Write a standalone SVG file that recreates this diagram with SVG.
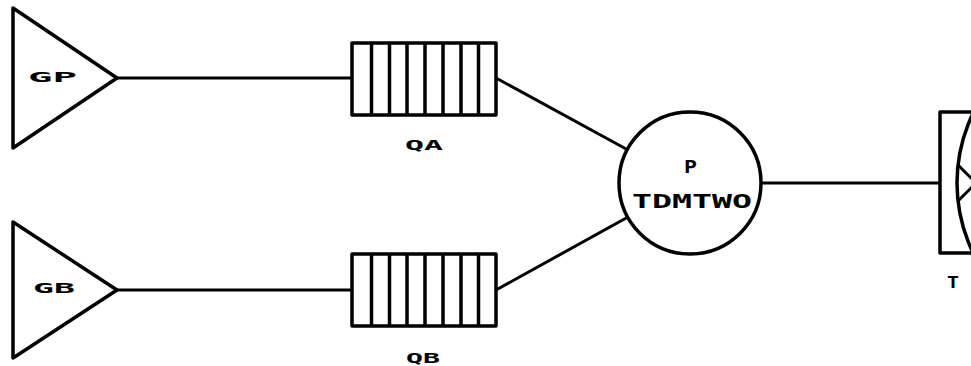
<svg xmlns="http://www.w3.org/2000/svg" width="971" height="366" viewBox="0 0 971 366">
<style>
.s{fill:#fff;stroke:#000;stroke-width:3.5;stroke-linejoin:round}
.c{fill:none;stroke:#000;stroke-width:3}
.d{fill:none;stroke:#000;stroke-width:3.5}
.t{font-family:"DejaVu Sans Mono","Liberation Mono",monospace;font-weight:bold;fill:#000}
</style>
<rect width="971" height="366" fill="#fff"/>
<g id="connectors">
<line class="c" x1="117" y1="78" x2="352" y2="78"/>
<line class="c" x1="117" y1="290" x2="352" y2="290"/>
<line class="c" x1="496" y1="78" x2="628" y2="150"/>
<line class="c" x1="496" y1="290" x2="628" y2="217"/>
<line class="c" x1="761" y1="183" x2="940" y2="183"/>
</g>
<g id="GP">
<polygon class="s" points="13,8 13,148 117,78"/>
<text class="t" x="28" y="82" font-size="14" textLength="49" lengthAdjust="spacingAndGlyphs">GP</text>
</g>
<g id="GB">
<polygon class="s" points="13,222 13,358 117,290"/>
<text class="t" x="33" y="293" font-size="14" textLength="42" lengthAdjust="spacingAndGlyphs">GB</text>
</g>
<g id="QA">
<rect class="s" x="352" y="43" width="144" height="72"/>
<path class="d" d="M371.5 43V115M389.5 43V115M407 43V115M425 43V115M443 43V115M461 43V115M478.5 43V115"/>
<text class="t" x="405" y="150" font-size="14" textLength="38" lengthAdjust="spacingAndGlyphs">QA</text>
</g>
<g id="QB">
<rect class="s" x="352" y="254" width="144" height="72"/>
<path class="d" d="M371.5 254V326M389.5 254V326M407 254V326M425 254V326M443 254V326M461 254V326M478.5 254V326"/>
<text class="t" x="406" y="363" font-size="14" textLength="34" lengthAdjust="spacingAndGlyphs">QB</text>
</g>
<g id="P">
<circle class="s" cx="690" cy="183" r="71"/>
<text class="t" x="684" y="173" font-size="17" textLength="13" lengthAdjust="spacingAndGlyphs">P</text>
<text class="t" x="632" y="208" font-size="20" textLength="120" lengthAdjust="spacingAndGlyphs">TDMTWO</text>
</g>
<g id="T">
<rect class="s" x="940" y="112" width="80" height="141"/>
<circle class="d" cx="1116" cy="183" r="159"/>
<line class="c" x1="958" y1="165" x2="995" y2="202"/>
<line class="c" x1="958" y1="201" x2="995" y2="164"/>
<text class="t" x="947" y="288" font-size="15" textLength="12" lengthAdjust="spacingAndGlyphs">T</text>
</g>
</svg>
